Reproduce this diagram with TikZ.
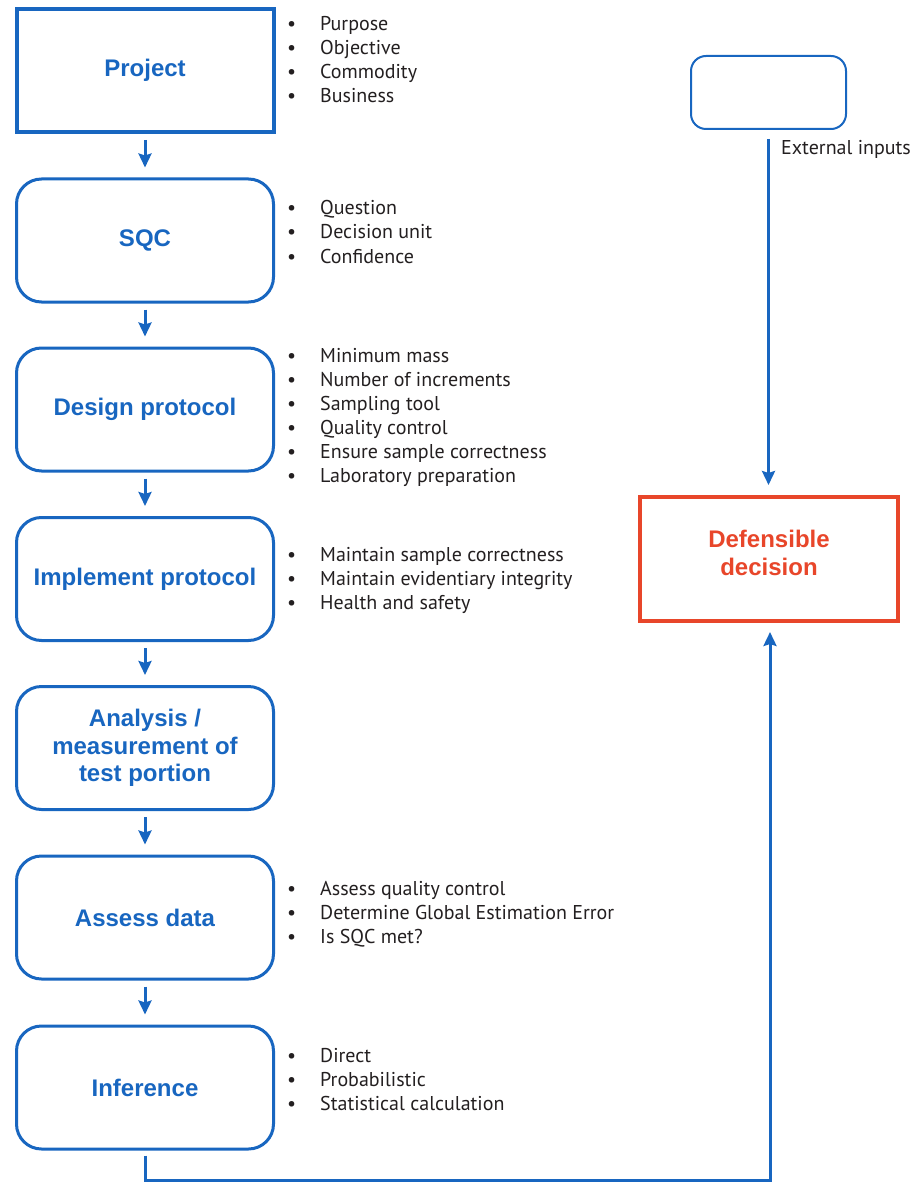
\documentclass[tikz,border=0pt]{standalone}
\usepackage{fontspec}
\setmainfont{PT Sans}
\newfontfamily\headfont{Liberation Sans}
\usetikzlibrary{arrows.meta}
\definecolor{flowblue}{RGB}{24,102,192}
\definecolor{decred}{RGB}{232,70,42}
\definecolor{bodyink}{RGB}{35,31,32}
\newcommand\bl[1]{\makebox[33pt][l]{\textbullet}#1}
\tikzset{
  headtext/.style={font=\headfont\bfseries\fontsize{24}{27.5}\selectfont, align=center},
  stage/.style={draw=flowblue, line width=3pt, rounded corners=25pt, fill=white,
    minimum width=257pt, minimum height=123pt, headtext, text=flowblue, inner sep=0pt},
  squarestage/.style={stage, rounded corners=0pt, line width=4pt},
  flow/.style={draw=flowblue, line width=3pt, -{Stealth[length=14pt,width=13pt,inset=2pt]}},
  itemlist/.style={anchor=base west, inner sep=0pt, text=bodyink,
    font=\fontsize{20}{24}\selectfont},
}
\begin{document}
\begin{tikzpicture}[x=1pt,y=-1pt]
\useasboundingbox (0,0) rectangle (916,1182);

% main column of stages
\node[squarestage] (proj) at (145,70.5) {Project};
\node[stage] (sqc)  at (145,240.5) {SQC};
\node[stage] (des)  at (145,409.5) {Design protocol};
\node[stage] (imp)  at (145,579)   {Implement protocol};
\node[stage] (ana)  at (145,748)   {Analysis /\\measurement of\\test portion};
\node[stage] (ass)  at (145,917.5) {Assess data};
\node[stage] (inf)  at (145,1087.5){Inference};

\foreach \a/\b in {proj/sqc, sqc/des, des/imp, imp/ana, ana/ass, ass/inf}
  \draw[flow, shorten <=6pt, shorten >=10pt] (\a.south) -- (\b.north);

% bullet lists beside the stages
\node[itemlist] (lproj) at (287,31) {\begin{tabular}[t]{@{}l@{}}
  \bl{Purpose}\\ \bl{Objective}\\ \bl{Commodity}\\ \bl{Business}\end{tabular}};
\node[itemlist] (lsqc) at (287,215) {\begin{tabular}[t]{@{}l@{}}
  \bl{Question}\\ \bl{Decision unit}\\ \bl{Confidence}\end{tabular}};
\node[itemlist] (ldes) at (287,362) {\begin{tabular}[t]{@{}l@{}}
  \bl{Minimum mass}\\ \bl{Number of increments}\\ \bl{Sampling tool}\\
  \bl{Quality control}\\ \bl{Ensure sample correctness}\\ \bl{Laboratory preparation}\end{tabular}};
\node[itemlist] (limp) at (287,561) {\begin{tabular}[t]{@{}l@{}}
  \bl{Maintain sample correctness}\\ \bl{Maintain evidentiary integrity}\\ \bl{Health and safety}\end{tabular}};
\node[itemlist] (lass) at (287,895) {\begin{tabular}[t]{@{}l@{}}
  \bl{Assess quality control}\\ \bl{Determine Global Estimation Error}\\ \bl{Is SQC met?}\end{tabular}};
\node[itemlist] (linf) at (287,1062) {\begin{tabular}[t]{@{}l@{}}
  \bl{Direct}\\ \bl{Probabilistic}\\ \bl{Statistical calculation}\end{tabular}};

% external inputs and the decision
\node[draw=flowblue, line width=2pt, rounded corners=15pt, minimum width=155pt,
  minimum height=73pt, inner sep=0pt] (ext) at (768.5,92.5) {};
\node[squarestage, draw=decred, minimum width=258pt, minimum height=124pt]
  (dd) at (769,559) {};
\node[headtext, text=decred, inner sep=0pt] (ddlbl) at ([yshift=6pt]dd.center) {Defensible\\decision};

\draw[flow, shorten <=9pt, shorten >=10pt] (ext.south) -- (ext.south |- dd.north);
\node[anchor=base west, inner sep=0pt, text=bodyink, font=\fontsize{20}{24}\selectfont]
  (extlbl) at (781,155) {External inputs};

% feedback from inference to the decision
\coordinate (b1) at (145,1180);
\coordinate (b2) at (770,1180);
\draw[flow, shorten <=5pt, shorten >=9pt] (inf.south) -- (b1) -- (b2) -- (b2 |- dd.south);
\end{tikzpicture}
\end{document}
